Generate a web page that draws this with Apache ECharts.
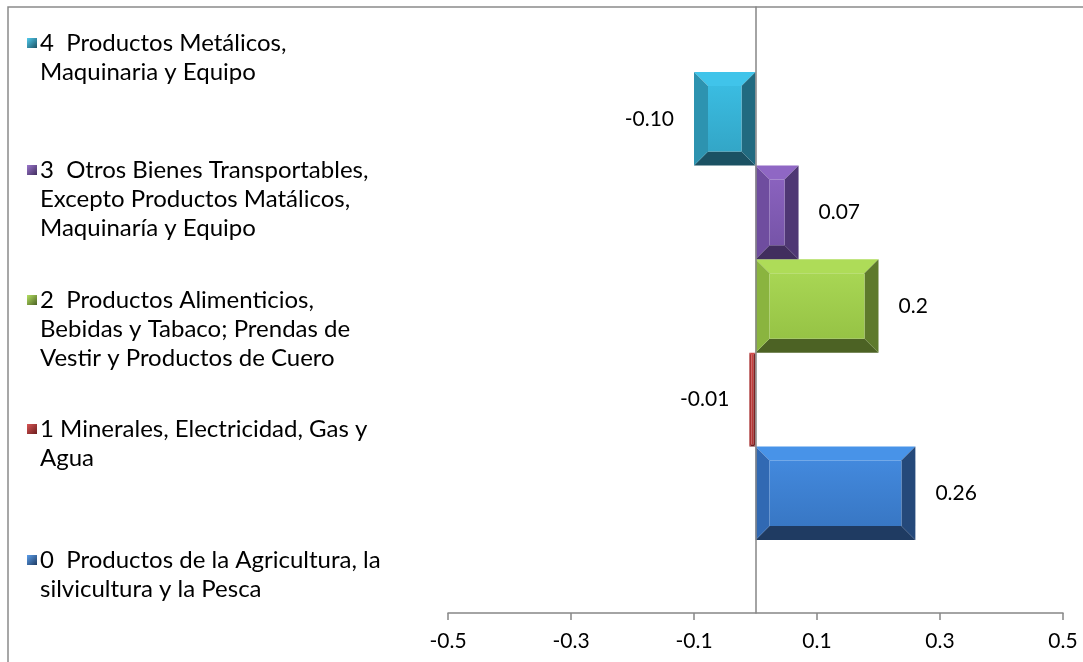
<!DOCTYPE html>
<html>
<head>
<meta charset="utf-8">
<script src="https://cdn.jsdelivr.net/npm/echarts@6/dist/echarts.min.js"></script>
<style>
  html, body { margin: 0; padding: 0; background: #fff; }
  #chart { width: 1083px; height: 662px; }
</style>
</head>
<body>
<div id="chart"></div>
<script>
// ---------------- DATA ----------------
const categories = ['0', '1', '2', '3', '4'];
const seriesNames = [
  '0  Productos de la Agricultura, la\nsilvicultura y la Pesca',
  '1 Minerales, Electricidad, Gas y\nAgua',
  '2  Productos Alimenticios,\nBebidas y Tabaco; Prendas de\nVestir y Productos de Cuero',
  '3  Otros Bienes Transportables,\nExcepto Productos Matálicos,\nMaquinaría y Equipo',
  '4  Productos Metálicos,\nMaquinaria y Equipo'
];
const values = [0.26, -0.01, 0.2, 0.07, -0.10];
const valueLabels = ['0.26', '-0.01', '0.2', '0.07', '-0.10'];
const xTicks = [-0.5, -0.3, -0.1, 0.1, 0.3, 0.5];

// ---------------- STYLE ----------------
const FONT = 'Lato';
const FS = 21;          // data labels & axis labels
const LEGEND_FS = 24;   // legend text
const LINE_H = 29;
const AXIS_COLOR = '#868686';
const palettes = [
  { face: ['#4389DD', '#3877C4'], top: '#4893E8', left: '#3169B3', right: '#25497A', bottom: '#1F3B62', icon: ['#5C9EEA', '#1F3B62'] },
  { face: ['#CC4342', '#B03535'], top: '#D24A4A', left: '#A83131', right: '#7D2323', bottom: '#6B1D1D', icon: ['#D85656', '#6B1D1D'] },
  { face: ['#A8D654', '#96C345'], top: '#AEDC58', left: '#8AB43F', right: '#5E7A2B', bottom: '#4C6224', icon: ['#B4E062', '#4C6224'] },
  { face: ['#8A62BE', '#7654A8'], top: '#8F67C4', left: '#6F4D9F', right: '#4F3774', bottom: '#412E5E', icon: ['#9B76CC', '#412E5E'] },
  { face: ['#3ABCE1', '#33A6C7'], top: '#40C4EA', left: '#2D93B0', right: '#216A80', bottom: '#1B5163', icon: ['#52CCEE', '#1B5163'] }
];
const legendLineCenters = [560, 429, 300, 170, 43];
const BEVEL = 14;
const LABEL_GAP = 20;

function makeRenderItem(idx) {
  const pal = palettes[idx];
  return function (params, api) {
    const v = api.value(0);
    const c = api.value(1);
    const p0 = api.coord([0, c]);
    const p1 = api.coord([v, c]);
    const h = api.size([0, 1])[1];
    const x0 = Math.min(p0[0], p1[0]);
    const x1 = Math.max(p0[0], p1[0]);
    const y0 = p0[1] - h / 2;
    const y1 = p0[1] + h / 2;
    const w = x1 - x0;
    const b = Math.min(BEVEL, w / 2.8, h / 2);
    const children = [
      { type: 'polygon', shape: { points: [[x0, y0], [x1, y0], [x1 - b, y0 + b], [x0 + b, y0 + b]] }, style: { fill: pal.top } },
      { type: 'polygon', shape: { points: [[x0, y1], [x1, y1], [x1 - b, y1 - b], [x0 + b, y1 - b]] }, style: { fill: pal.bottom } },
      { type: 'polygon', shape: { points: [[x0, y0], [x0 + b, y0 + b], [x0 + b, y1 - b], [x0, y1]] }, style: { fill: pal.left } },
      { type: 'polygon', shape: { points: [[x1, y0], [x1 - b, y0 + b], [x1 - b, y1 - b], [x1, y1]] }, style: { fill: pal.right } },
      { type: 'rect', shape: { x: x0 + b, y: y0 + b, width: Math.max(0, w - 2 * b), height: Math.max(0, h - 2 * b) },
        style: { fill: new echarts.graphic.LinearGradient(0, 0, 0, 1, [{ offset: 0, color: pal.face[0] }, { offset: 1, color: pal.face[1] }]) } },
      { type: 'text', style: {
          text: valueLabels[idx],
          x: v >= 0 ? x1 + LABEL_GAP : x0 - LABEL_GAP,
          y: p0[1],
          align: v >= 0 ? 'left' : 'right',
          verticalAlign: 'middle',
          fontSize: FS, fontFamily: FONT, fill: '#000'
        } }
    ];
    return { type: 'group', children: children };
  };
}

const series = seriesNames.map((name, i) => ({
  name: name,
  type: 'custom',
  coordinateSystem: 'cartesian2d',
  xAxisIndex: 1,
  yAxisIndex: 1,
  encode: { x: 0, y: 1 },
  itemStyle: {
    color: new echarts.graphic.LinearGradient(0, 0, 1, 1, [{ offset: 0, color: palettes[i].icon[0] }, { offset: 1, color: palettes[i].icon[1] }])
  },
  renderItem: makeRenderItem(i),
  data: [[values[i], i]],
  z: 2
}));

const legends = seriesNames.map((name, i) => {
  const n = name.split('\n').length;
  return {
    data: [name],
    left: 27,
    top: legendLineCenters[i] - LINE_H / 2 - (n - 1) * LINE_H,
    orient: 'vertical',
    padding: 0,
    icon: 'rect',
    itemWidth: 10,
    itemHeight: 10,
    selectedMode: false,
    textStyle: { fontFamily: FONT, fontSize: LEGEND_FS, lineHeight: LINE_H, color: '#000', padding: [0, 0, 0, -2] },
    formatter: (nm) => '\n'.repeat(nm.split('\n').length - 1) + nm
  };
});

const chart = echarts.init(document.getElementById('chart'), null, { renderer: 'canvas' });
chart.setOption({
  animation: false,
  backgroundColor: '#fff',
  textStyle: { fontFamily: FONT },
  graphic: [{
    type: 'rect', silent: true, z: 0,
    shape: { x: 8, y: 7, width: 1200, height: 800 },
    style: { fill: 'none', stroke: '#8a8a8a', lineWidth: 1.5 }
  }],
  legend: legends,
  grid: [
    { left: 448, right: 20, top: 7, bottom: 49 },
    { left: 448, right: 20, top: 72, bottom: 122 }
  ],
  xAxis: [
    {
      gridIndex: 0, type: 'value', min: -0.5, max: 0.5, z: 5,
      axisLine: { show: true, onZero: false, lineStyle: { color: AXIS_COLOR, width: 1.5 } },
      axisTick: { show: true, length: 7, customValues: xTicks, lineStyle: { color: AXIS_COLOR, width: 1.5 } },
      axisLabel: { customValues: xTicks, formatter: (v) => v.toFixed(1), margin: 18, fontSize: FS, fontFamily: FONT, color: '#000' },
      splitLine: { show: false }
    },
    {
      gridIndex: 1, type: 'value', min: -0.5, max: 0.5, show: false
    }
  ],
  yAxis: [
    {
      gridIndex: 0, type: 'value', min: 0, max: 1, z: 5,
      axisLine: { show: true, onZero: true, lineStyle: { color: AXIS_COLOR, width: 1.5 } },
      axisTick: { show: false }, axisLabel: { show: false }, splitLine: { show: false }
    },
    {
      gridIndex: 1, type: 'category', data: categories, show: false
    }
  ],
  series: series
});
</script>
</body>
</html>
